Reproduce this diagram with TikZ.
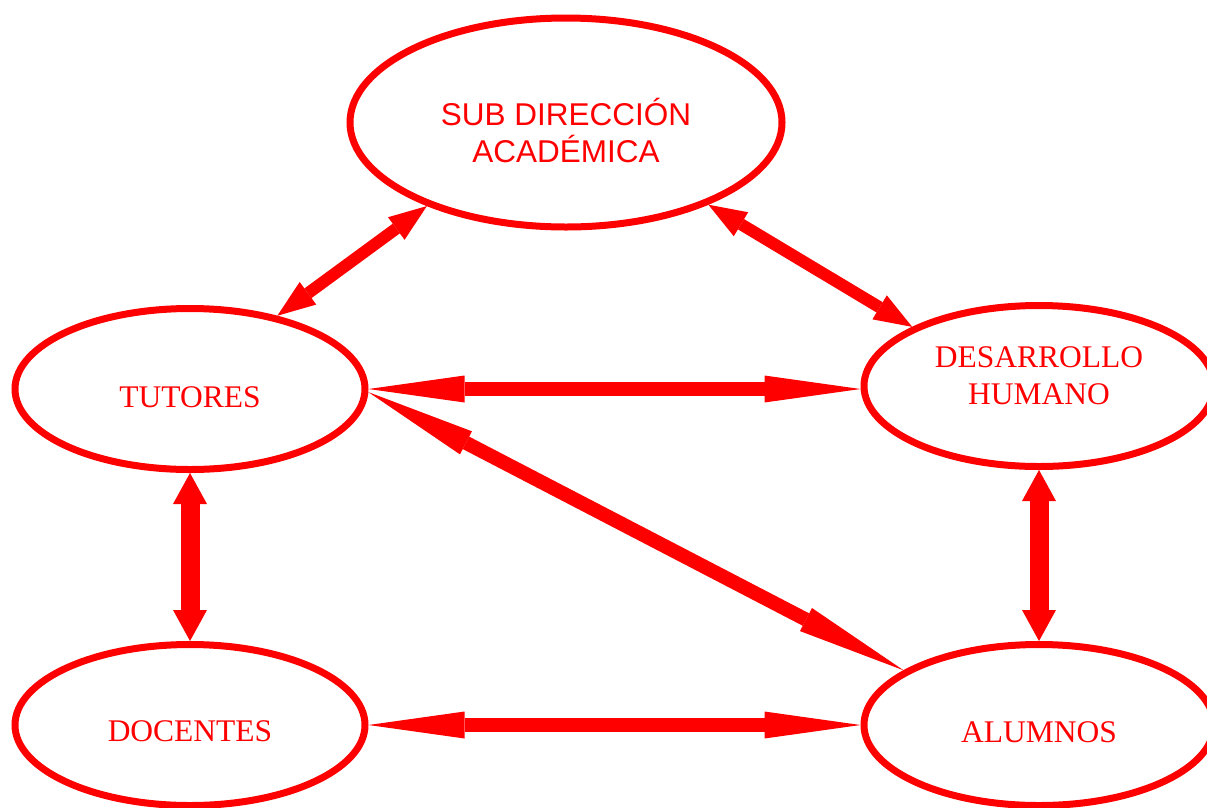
\documentclass[tikz,border=0pt]{standalone}
\usepackage{fontspec}
\setmainfont{Liberation Serif}
\newfontfamily\headfont{Liberation Sans}
\usetikzlibrary{arrows.meta,shapes.geometric,calc}
\definecolor{ShapeClr}{RGB}{255,0,0}

\begin{document}
\begin{tikzpicture}[x=1pt,y=-1pt,
  unit/.style={ellipse,draw=ShapeClr,line width=7pt,inner sep=0pt,
    minimum width=350pt,minimum height=161pt},
  tag/.style={text=ShapeClr,align=center,inner sep=0pt,
    font=\fontsize{31.5}{37}\selectfont},
  headtag/.style={tag,font=\headfont\fontsize{31.5}{37}\selectfont},
  diag/.style={color=ShapeClr,line width=12pt,
    {Triangle[length=38pt,width=28pt,line width=0pt]}-{Triangle[length=38pt,width=28pt,line width=0pt]}},
  flat/.style={color=ShapeClr,line width=14pt,
    {Triangle[length=96pt,width=27pt,line width=0pt]}-{Triangle[length=96pt,width=27pt,line width=0pt]}},
  cross/.style={color=ShapeClr,line width=14pt,
    {Triangle[length=110pt,width=26pt,line width=0pt]}-{Triangle[length=110pt,width=26pt,line width=0pt]}},
  upright/.style={color=ShapeClr,line width=19pt,
    {Triangle[length=31pt,width=34pt,line width=0pt]}-{Triangle[length=31pt,width=34pt,line width=0pt]}}]
\useasboundingbox (0,0) rectangle (1207,807);
\clip (0,0) rectangle (1207,807);

% ellipses
\node[unit,minimum width=432pt,minimum height=209pt] (sub) at (566,122.5) {};
\node[unit] (tut) at (190,389) {};
\node[unit] (dh)  at (1039,386) {};
\node[unit] (doc) at (190,725) {};
\node[unit] (alu) at (1039,725) {};

% texts
\node[headtag] (subtxt) at (566,130) {SUB DIRECCIÓN\\ACADÉMICA};
\node[tag] (tuttxt) at (190,397) {TUTORES};
\node[tag] (dhtxt)  at (1039,376) {DESARROLLO\\HUMANO};
\node[tag] (doctxt) at (190,731.5) {DOCENTES};
\node[tag] (alutxt) at (1039,732) {ALUMNOS};

% links
\draw[diag] (sub.211) -- (tut.40);
\draw[diag] (sub.330) -- (dh.155);
\draw[flat] (tut.east) -- (tut.east -| dh.west);
\draw[flat] (doc.east) -- (alu.west);
\draw[cross] (tut.-1) -- (alu.158);
\draw[upright] (tut.south) -- (doc.north);
\draw[upright] (dh.south) -- (alu.north);

\end{tikzpicture}
\end{document}
